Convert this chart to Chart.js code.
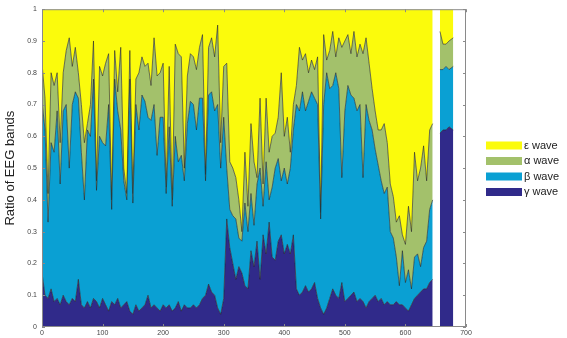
<!DOCTYPE html>
<html>
<head>
<meta charset="utf-8">
<script src="https://cdn.jsdelivr.net/npm/chart.js@4/dist/chart.umd.min.js"></script>
<style>
  body { margin: 0; background: #fff; }
  #wrap { width: 567px; height: 338px; }
</style>
</head>
<body>
<div id="wrap"><canvas id="myChart" width="567" height="338"></canvas></div>
<script>
// sample positions (x axis), null row at 650 is the break between the two recordings
const sampleX = [
  0, 5, 10, 15, 20, 25, 30, 35, 40, 45,
  50, 55, 60, 65, 70, 75, 80, 85, 90, 95,
  100, 105, 110, 115, 120, 125, 130, 135, 140, 145,
  150, 155, 160, 165, 170, 175, 180, 185, 190, 195,
  200, 205, 210, 215, 220, 225, 230, 235, 240, 245,
  250, 255, 260, 265, 270, 275, 280, 285, 290, 295,
  300, 305, 310, 315, 320, 325, 330, 335, 340, 345,
  350, 355, 360, 365, 370, 375, 380, 385, 390, 395,
  400, 405, 410, 415, 420, 425, 430, 435, 440, 445,
  450, 455, 460, 465, 470, 475, 480, 485, 490, 495,
  500, 505, 510, 515, 520, 525, 530, 535, 540, 545,
  550, 555, 560, 565, 570, 575, 580, 585, 590, 595,
  600, 605, 610, 615, 620, 625, 630, 635, 640, 645,
  650, 657, 662, 667, 672, 679
];

// top edge of each band (cumulative ratio)
const gammaTop = [
  0.17, 0.10, 0.09, 0.12, 0.08, 0.09, 0.07, 0.10, 0.08, 0.07,
  0.09, 0.08, 0.15, 0.07, 0.06, 0.08, 0.06, 0.09, 0.08, 0.06,
  0.09, 0.07, 0.05, 0.08, 0.07, 0.09, 0.06, 0.07, 0.08, 0.05,
  0.04, 0.07, 0.05, 0.06, 0.07, 0.10, 0.06, 0.07, 0.06, 0.05,
  0.07, 0.06, 0.07, 0.05, 0.06, 0.08, 0.05, 0.07, 0.06, 0.06,
  0.07, 0.06, 0.07, 0.09, 0.10, 0.135, 0.11, 0.10, 0.06, 0.04,
  0.09, 0.34, 0.25, 0.20, 0.15, 0.19, 0.17, 0.13, 0.12, 0.24,
  0.19, 0.27, 0.15, 0.29, 0.23, 0.33, 0.22, 0.21, 0.27, 0.29,
  0.23, 0.26, 0.23, 0.29, 0.12, 0.10, 0.11, 0.13, 0.11, 0.12,
  0.14, 0.09, 0.06, 0.04, 0.06, 0.09, 0.12, 0.10, 0.09, 0.14,
  0.08, 0.09, 0.10, 0.11, 0.08, 0.09, 0.08, 0.06, 0.08, 0.09,
  0.10, 0.08, 0.09, 0.07, 0.08, 0.07, 0.07, 0.08, 0.07, 0.07,
  0.06, 0.05, 0.07, 0.09, 0.10, 0.11, 0.12, 0.12, 0.14, 0.15,
  null, 0.61, 0.62, 0.62, 0.63, 0.62
];

const betaTop = [
  0.71, 0.62, 0.33, 0.58, 0.55, 0.68, 0.45, 0.68, 0.70, 0.50,
  0.70, 0.74, 0.72, 0.55, 0.40, 0.62, 0.60, 0.78, 0.43, 0.60,
  0.58, 0.57, 0.70, 0.37, 0.78, 0.68, 0.62, 0.46, 0.40, 0.78,
  0.39, 0.70, 0.62, 0.73, 0.71, 0.66, 0.65, 0.70, 0.54, 0.66,
  0.66, 0.42, 0.63, 0.38, 0.60, 0.52, 0.54, 0.46, 0.64, 0.71,
  0.70, 0.62, 0.72, 0.72, 0.46, 0.73, 0.74, 0.68, 0.70, 0.50,
  0.66, 0.50, 0.37, 0.35, 0.34, 0.28, 0.27, 0.39, 0.30, 0.42,
  0.32, 0.45, 0.50, 0.38, 0.52, 0.40, 0.44, 0.50, 0.53, 0.46,
  0.50, 0.45, 0.50, 0.62, 0.70, 0.68, 0.74, 0.68, 0.71, 0.74,
  0.72, 0.70, 0.34, 0.70, 0.80, 0.75, 0.76, 0.80, 0.75, 0.47,
  0.68, 0.76, 0.73, 0.72, 0.68, 0.70, 0.47, 0.70, 0.65, 0.62,
  0.56, 0.51, 0.46, 0.42, 0.44, 0.30, 0.28, 0.22, 0.13, 0.24,
  0.14, 0.18, 0.12, 0.22, 0.23, 0.19, 0.25, 0.27, 0.37, 0.40,
  null, 0.81, 0.81, 0.82, 0.81, 0.82
];

const alphaTop = [
  0.83, 0.72, 0.42, 0.80, 0.76, 0.80, 0.58, 0.80, 0.87, 0.91,
  0.82, 0.88, 0.80, 0.70, 0.58, 0.64, 0.70, 0.90, 0.46, 0.82,
  0.79, 0.83, 0.86, 0.40, 0.87, 0.74, 0.88, 0.50, 0.42, 0.87,
  0.42, 0.78, 0.80, 0.85, 0.82, 0.83, 0.76, 0.91, 0.79, 0.80,
  0.83, 0.44, 0.82, 0.40, 0.89, 0.86, 0.85, 0.50, 0.79, 0.86,
  0.85, 0.81, 0.88, 0.92, 0.48, 0.88, 0.91, 0.85, 0.95, 0.58,
  0.82, 0.83, 0.52, 0.50, 0.47, 0.40, 0.30, 0.55, 0.38, 0.64,
  0.52, 0.47, 0.72, 0.45, 0.72, 0.55, 0.60, 0.61, 0.66, 0.80,
  0.60, 0.66, 0.55, 0.70, 0.76, 0.88, 0.84, 0.86, 0.80, 0.84,
  0.81, 0.85, 0.36, 0.92, 0.84, 0.87, 0.93, 0.85, 0.91, 0.88,
  0.90, 0.92, 0.86, 0.93, 0.85, 0.89, 0.86, 0.91, 0.83, 0.75,
  0.68, 0.62, 0.62, 0.64, 0.58, 0.45, 0.41, 0.33, 0.35, 0.29,
  0.26, 0.38, 0.30, 0.55, 0.46, 0.50, 0.57, 0.46, 0.62, 0.64,
  null, 0.93, 0.89, 0.89, 0.90, 0.91
];

const bandNames = ["γ wave", "β wave", "α wave", "ε wave"];
const bandColors = ["#302a8a", "#0aa0d3", "#a3c16b", "#fbfb0c"];
const edgeColor = "rgba(35,35,35,0.75)";

Chart.defaults.font.family = "'Liberation Sans', Arial, sans-serif";

// box with inward ticks, like the matlab axes
const frame = {
  id: "frame",
  afterDraw(chart) {
    const c = chart.ctx, a = chart.chartArea;
    const sx = chart.scales.x, sy = chart.scales.y;
    c.save();
    c.strokeStyle = "#8a8a8a";
    c.lineWidth = 1;
    c.strokeRect(a.left + 0.5, a.top + 0.5, a.right - a.left - 1, a.bottom - a.top - 1);
    c.beginPath();
    sy.ticks.forEach(t => {
      const y = Math.round(sy.getPixelForValue(t.value)) + 0.5;
      c.moveTo(a.left, y); c.lineTo(a.left + 3, y);
      c.moveTo(a.right, y); c.lineTo(a.right - 3, y);
    });
    sx.ticks.forEach(t => {
      const x = Math.round(sx.getPixelForValue(t.value)) + 0.5;
      c.moveTo(x, a.bottom); c.lineTo(x, a.bottom - 3);
      c.moveTo(x, a.top); c.lineTo(x, a.top + 3);
    });
    c.stroke();
    c.restore();
  }
};

const sideLegend = {
  id: "sideLegend",
  afterDraw(chart) {
    const c = chart.ctx, a = chart.chartArea;
    const x0 = a.right + 20;
    let y = 145.5;
    c.save();
    c.font = "11px 'Liberation Sans', Arial, sans-serif";
    c.textBaseline = "middle";
    for (let i = chart.data.datasets.length - 1; i >= 0; i--) {
      const ds = chart.data.datasets[i];
      c.fillStyle = ds.backgroundColor;
      c.fillRect(x0, y - 4, 36, 8);
      c.fillStyle = "#222";
      c.fillText(ds.label, x0 + 38, y);
      y += 15.5;
    }
    c.restore();
  }
};

var ctx = document.getElementById("myChart").getContext("2d");
var myChart = new Chart(ctx, {
  type: "line",
  data: {
    labels: sampleX,
    datasets: [
      { label: bandNames[0], data: gammaTop, fill: "origin",
        backgroundColor: bandColors[0], borderColor: edgeColor, borderWidth: 0.8 },
      { label: bandNames[1], data: betaTop, fill: "-1",
        backgroundColor: bandColors[1], borderColor: edgeColor, borderWidth: 0.8 },
      { label: bandNames[2], data: alphaTop, fill: "-1",
        backgroundColor: bandColors[2], borderColor: edgeColor, borderWidth: 0.8 },
      { label: bandNames[3], data: alphaTop, fill: "end",
        backgroundColor: bandColors[3], borderColor: edgeColor, borderWidth: 0 }
    ]
  },
  options: {
    responsive: false,
    animation: false,
    spanGaps: false,
    layout: { padding: { left: 0, right: 101, top: 4, bottom: 0 } },
    elements: { point: { radius: 0 }, line: { tension: 0 } },
    plugins: { legend: { display: false }, tooltip: { enabled: false } },
    scales: {
      x: {
        type: "linear", min: 0, max: 700,
        grid: { display: false, drawTicks: false }, border: { display: false },
        ticks: { stepSize: 100, padding: 2, color: "#444", font: { size: 7 }, maxRotation: 0 },
        afterFit: function (s) { s.height = 11; }
      },
      y: {
        min: 0, max: 1,
        grid: { display: false, drawTicks: false }, border: { display: false },
        ticks: { stepSize: 0.1, padding: 5, color: "#444", font: { size: 7 },
                 callback: function (v) { return String(Math.round(v * 10) / 10); } },
        title: { display: true, text: "Ratio of EEG bands", color: "#222",
                 font: { size: 13 }, padding: { top: 3, bottom: 0 } },
        afterFit: function (s) { s.width = 42; }
      }
    }
  },
  plugins: [frame, sideLegend]
});
</script>
</body>
</html>
